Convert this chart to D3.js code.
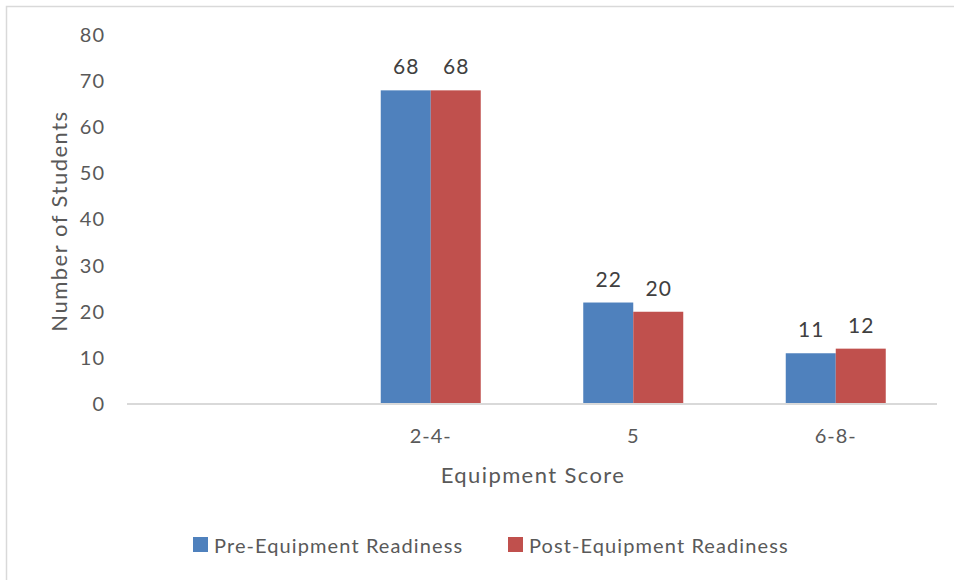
<!DOCTYPE html>
<html>
<head>
<meta charset="utf-8">
<script src="https://cdn.jsdelivr.net/npm/d3@7"></script>
<style>
  html, body { margin: 0; padding: 0; background: #fff; }
  svg { display: block; font-family: Lato, "Open Sans", sans-serif; }
</style>
</head>
<body>
<svg id="chart" width="954" height="580"></svg>
<script>
// Equipment score groups (first slot is an empty category)
const categories = ["", "2-4-", "5", "6-8-"];
const seriesNames = ["Pre-Equipment Readiness", "Post-Equipment Readiness"];
const preValues = [null, 68, 22, 11];
const postValues = [null, 68, 20, 12];
const yTicks = [0, 10, 20, 30, 40, 50, 60, 70, 80];
const colors = ["#4F81BD", "#C0504D"];

const svg = d3.select("#chart");

// chart frame
svg.append("rect")
  .attr("x", 6.5).attr("y", 6.5)
  .attr("width", 960).attr("height", 600)
  .attr("fill", "#fff")
  .attr("stroke", "#D9D9D9").attr("stroke-width", 1.5);

const x0 = d3.scaleBand().domain(categories).range([127, 937]).paddingInner(0).paddingOuter(0);
const x1 = d3.scaleBand().domain(seriesNames).range([0, x0.bandwidth()]).paddingInner(0).paddingOuter(1.025);
const y = d3.scaleLinear().domain([0, 80]).range([404, 35]);

// y tick labels (no axis line, no tick marks)
const yAxis = d3.axisLeft(y).tickValues(yTicks).tickSize(0).tickPadding(0);
const gy = svg.append("g").attr("transform", "translate(105,0)").call(yAxis);
gy.select(".domain").remove();
gy.selectAll("text")
  .attr("font-family", "Lato, sans-serif")
  .attr("font-size", 20)
  .attr("letter-spacing", 1)
  .attr("fill", "#595959");

// bars
const rows = categories.map((c, i) => ({ cat: c, vals: [preValues[i], postValues[i]] }));
const groups = svg.append("g").selectAll("g").data(rows).join("g")
  .attr("transform", d => `translate(${x0(d.cat)},0)`);

groups.selectAll("rect")
  .data(d => d.vals.map((v, k) => ({ v, k })).filter(e => e.v !== null))
  .join("rect")
  .attr("x", e => x1(seriesNames[e.k]))
  .attr("width", x1.bandwidth())
  .attr("y", e => y(e.v))
  .attr("height", e => y(0) - y(e.v))
  .attr("fill", e => colors[e.k]);

groups.selectAll("text.val")
  .data(d => d.vals.map((v, k) => ({ v, k })).filter(e => e.v !== null))
  .join("text")
  .attr("class", "val")
  .attr("x", e => x1(seriesNames[e.k]) + x1.bandwidth() / 2 + 0.5)
  .attr("y", e => y(e.v) - 16)
  .attr("text-anchor", "middle")
  .attr("font-size", 21)
  .attr("letter-spacing", 1)
  .attr("fill", "#404040")
  .text(e => e.v);

// x axis
const xAxis = d3.axisBottom(x0).tickSize(0).tickPadding(0);
const gx = svg.append("g").attr("transform", `translate(0,${y(0)})`).call(xAxis);
gx.select(".domain").attr("stroke", "#D9D9D9").attr("stroke-width", 2)
  .attr("d", `M127,0H937`);
gx.selectAll("text")
  .attr("dy", null)
  .attr("y", 39)
  .attr("font-family", "Lato, sans-serif")
  .attr("font-size", 20)
  .attr("letter-spacing", 1)
  .attr("fill", "#595959");

// axis titles
svg.append("text")
  .attr("x", 533).attr("y", 483)
  .attr("text-anchor", "middle")
  .attr("font-size", 22)
  .attr("letter-spacing", 1.4)
  .attr("fill", "#595959")
  .text("Equipment Score");

svg.append("text")
  .attr("transform", "translate(67,221) rotate(-90)")
  .attr("text-anchor", "middle")
  .attr("font-size", 22)
  .attr("letter-spacing", 1.5)
  .attr("fill", "#595959")
  .text("Number of Students");

// legend
const legendX = [193, 508];
const legend = svg.append("g").selectAll("g").data(seriesNames).join("g")
  .attr("transform", (d, i) => `translate(${legendX[i]},537)`);
legend.append("rect")
  .attr("width", 15).attr("height", 15)
  .attr("fill", (d, i) => colors[i]);
legend.append("text")
  .attr("x", 21).attr("y", 15.5)
  .attr("font-size", 20)
  .attr("letter-spacing", 1.1)
  .attr("fill", "#595959")
  .text(d => d);
</script>
</body>
</html>
